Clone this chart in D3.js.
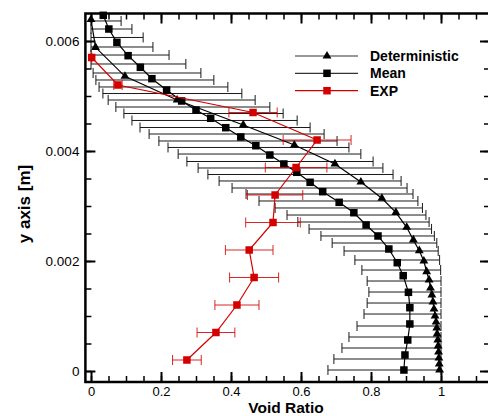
<!DOCTYPE html>
<html><head><meta charset="utf-8">
<script src="https://cdn.jsdelivr.net/npm/d3@7"></script>
<style>body{margin:0;background:#fff}svg{display:block}</style>
</head><body><svg id="c" width="488" height="416"></svg>
<script>
// ---- data ----
const meanY = [0.006467,0.006218,0.005976,0.005733,0.005522,0.005315,0.005109,0.004909,0.004745,0.004595,0.004424,0.004255,0.004096,0.003927,0.003764,0.003613,0.003431,0.00326,0.003067,0.002878,0.002655,0.002455,0.002218,0.001969,0.001733,0.001431,0.001151,0.000855,0.000564,0.000291,0.000018];
const meanX = [0.035,0.051,0.074,0.106,0.141,0.174,0.216,0.259,0.300,0.342,0.385,0.428,0.471,0.511,0.551,0.588,0.626,0.662,0.709,0.751,0.786,0.820,0.851,0.875,0.892,0.907,0.911,0.911,0.905,0.897,0.894];

const barY  = [0.006364,0.006218,0.006064,0.005891,0.005745,0.005582,0.005418,0.005291,0.005164,0.005045,0.004927,0.0048,0.004682,0.004555,0.004427,0.004309,0.004182,0.004064,0.003945,0.003809,0.003691,0.003573,0.003455,0.003327,0.003218,0.003091,0.002964,0.002836,0.002709,0.002582,0.002455,0.002327,0.002182,0.002018,0.001836,0.001636,0.001436,0.001236,0.001036,0.000818,0.000618,0.000418,0.000218,0.000018];
const barLo = [0,0,0,0,0,0,0.006,0.014,0.023,0.034,0.049,0.071,0.094,0.117,0.14,0.166,0.194,0.22,0.249,0.274,0.306,0.334,0.366,0.403,0.443,0.48,0.526,0.56,0.591,0.623,0.657,0.689,0.723,0.754,0.774,0.789,0.794,0.789,0.78,0.76,0.737,0.717,0.694,0.677];
const barHi = [0.086,0.117,0.149,0.177,0.223,0.271,0.314,0.351,0.391,0.431,0.469,0.511,0.549,0.589,0.626,0.666,0.703,0.737,0.771,0.806,0.834,0.863,0.886,0.903,0.92,0.934,0.947,0.957,0.966,0.973,0.981,0.988,0.992,0.996,0.999,1,1,1,1,1,1,1,1,1];

const detY = [0.00639,0.005885,0.005358,0.004927,0.004473,0.004109,0.003764,0.003436,0.00314,0.002885,0.002613,0.002382,0.002187,0.002,0.001805,0.001655,0.001509,0.001382,0.001255,0.001127,0.001,0.000891,0.000782,0.000673,0.000564,0.000455,0.000345,0.000236,0.000127,0.00002];
const detX = [0.0,0.013,0.097,0.246,0.435,0.581,0.697,0.771,0.831,0.871,0.902,0.921,0.938,0.951,0.959,0.966,0.970,0.974,0.977,0.98,0.983,0.986,0.988,0.989,0.991,0.992,0.993,0.994,0.995,0.996];

const expY   = [0.0002,0.0007,0.0012,0.0017,0.0022,0.0027,0.0032,0.0037,0.0042,0.0047,0.0052,0.0057];
const expX   = [0.274,0.357,0.417,0.466,0.452,0.520,0.526,0.586,0.646,0.463,0.077,0.002];
const expErr = [0.041,0.054,0.063,0.070,0.068,0.078,0.079,0.088,0.097,0.069,0.012,0.0003];

const xTickValues = [0,0.2,0.4,0.6,0.8,1];
const xTickLabels = ["0","0.2","0.4","0.6","0.8","1"];
const yTickValues = [0,0.002,0.004,0.006];
const yTickLabels = ["0","0.002","0.004","0.006"];
const legendLabels = ["Deterministic","Mean","EXP"];
const xTitle = "Void Ratio";
const yTitle = "y axis [m]";

// ---- drawing ----
const svg = d3.select("#c");
const FONT = "'Liberation Sans', Arial, Helvetica, sans-serif";
const RED = "#d40000";
const xDomain = [-0.016, 1.14], yDomain = [-0.0002, 0.0065];
const x = d3.scaleLinear().domain(xDomain).range([85.4, 490]);
const y = d3.scaleLinear().domain(yDomain).range([382, 13.5]);
const L = x(xDomain[0]), R = x(xDomain[1]), T = y(yDomain[1]), B = y(yDomain[0]);

const xMinor = d3.range(0, 1.1001, 0.05);
const yMinor = d3.range(0, 0.00640, 0.0005);

function styleAxis(g, w){ g.select(".domain").remove(); g.selectAll(".tick line").attr("stroke","#000").attr("stroke-width",w); }
// minor ticks
svg.append("g").attr("transform",`translate(0,${B})`).call(d3.axisBottom(x).tickValues(xMinor).tickSize(-6).tickFormat("")).call(g=>styleAxis(g,1.5));
svg.append("g").attr("transform",`translate(0,${T})`).call(d3.axisTop(x).tickValues(xMinor).tickSize(-6).tickFormat("")).call(g=>styleAxis(g,1.5));
svg.append("g").attr("transform",`translate(${L},0)`).call(d3.axisLeft(y).tickValues(yMinor).tickSize(-6).tickFormat("")).call(g=>styleAxis(g,1.5));
svg.append("g").attr("transform",`translate(${R},0)`).call(d3.axisRight(y).tickValues(yMinor).tickSize(-6).tickFormat("")).call(g=>styleAxis(g,1.5));
// major ticks
const gx = svg.append("g").attr("transform",`translate(0,${B})`)
  .call(d3.axisBottom(x).tickValues(xTickValues).tickSize(-10).tickPadding(5).tickFormat((d,i)=>xTickLabels[i]))
  .call(g=>styleAxis(g,2));
gx.selectAll("text").attr("font-family",FONT).attr("font-size",13).attr("fill","#000");
svg.append("g").attr("transform",`translate(0,${T})`).call(d3.axisTop(x).tickValues(xTickValues).tickSize(-10).tickFormat("")).call(g=>styleAxis(g,2));
const gy = svg.append("g").attr("transform",`translate(${L},0)`)
  .call(d3.axisLeft(y).tickValues(yTickValues).tickSize(-10).tickPadding(6).tickFormat((d,i)=>yTickLabels[i]))
  .call(g=>styleAxis(g,2));
gy.selectAll("text").attr("font-family",FONT).attr("font-size",13.5).attr("fill","#000");
svg.append("g").attr("transform",`translate(${R},0)`).call(d3.axisRight(y).tickValues(yTickValues).tickSize(-10).tickFormat("")).call(g=>styleAxis(g,2));

const plot = svg.append("g");
const CAP = 5;
// mean error bars
const bars = plot.append("g").attr("stroke","#1a1a1a").attr("stroke-width",1).attr("fill","none");
barY.forEach((v,i)=>{
  const yy = y(v), a = x(barLo[i]), b = x(barHi[i]);
  bars.append("line").attr("x1",a).attr("x2",b).attr("y1",yy).attr("y2",yy);
  bars.append("line").attr("x1",a).attr("x2",a).attr("y1",yy-CAP).attr("y2",yy+CAP);
  bars.append("line").attr("x1",b).attr("x2",b).attr("y1",yy-CAP).attr("y2",yy+CAP);
});
const line = d3.line().x(d=>x(d[0])).y(d=>y(d[1]));
const meanPts = meanX.map((v,i)=>[v,meanY[i]]);
const detPts = detX.map((v,i)=>[v,detY[i]]);
const expPts = expX.map((v,i)=>[v,expY[i]]);
plot.append("path").attr("d",line(meanPts)).attr("fill","none").attr("stroke","#000").attr("stroke-width",1.2);
plot.append("path").attr("d",line(detPts)).attr("fill","none").attr("stroke","#000").attr("stroke-width",1.2);
const SQ = 7.5;
plot.append("g").selectAll("rect").data(meanPts).join("rect")
  .attr("x",d=>x(d[0])-SQ/2).attr("y",d=>y(d[1])-SQ/2).attr("width",SQ).attr("height",SQ).attr("fill","#000");
const tri = d3.symbol().type(d3.symbolTriangle).size(34);
plot.append("g").selectAll("path").data(detPts).join("path")
  .attr("d",tri).attr("transform",d=>`translate(${x(d[0])},${y(d[1])})`).attr("fill","#000");
// EXP
const eb = plot.append("g").attr("stroke",RED).attr("stroke-width",1).attr("stroke-opacity",0.85);
expPts.forEach((d,i)=>{
  const yy=y(d[1]), a=x(d[0]-expErr[i]), b=x(d[0]+expErr[i]);
  eb.append("line").attr("x1",a).attr("x2",b).attr("y1",yy).attr("y2",yy);
  eb.append("line").attr("x1",a).attr("x2",a).attr("y1",yy-CAP).attr("y2",yy+CAP);
  eb.append("line").attr("x1",b).attr("x2",b).attr("y1",yy-CAP).attr("y2",yy+CAP);
});
plot.append("path").attr("d",line(expPts)).attr("fill","none").attr("stroke",RED).attr("stroke-width",1.2);
plot.append("g").selectAll("rect").data(expPts).join("rect")
  .attr("x",d=>x(d[0])-SQ/2).attr("y",d=>y(d[1])-SQ/2).attr("width",SQ).attr("height",SQ).attr("fill",RED);

// frame
svg.append("rect").attr("x",L).attr("y",T).attr("width",R-L).attr("height",B-T)
  .attr("fill","none").attr("stroke","#000").attr("stroke-width",2.5);

// legend
const leg = svg.append("g");
const legY = [56, 73.3, 90.7];
legendLabels.forEach((lab,i)=>{
  const col = i===2 ? RED : "#333";
  leg.append("line").attr("x1",295).attr("x2",358).attr("y1",legY[i]).attr("y2",legY[i]).attr("stroke",col).attr("stroke-width",1.2);
  if(i===0) leg.append("path").attr("d",tri).attr("transform",`translate(327,${legY[i]})`).attr("fill","#000");
  else leg.append("rect").attr("x",327-SQ/2).attr("y",legY[i]-SQ/2).attr("width",SQ).attr("height",SQ).attr("fill",i===2?RED:"#000");
  leg.append("text").attr("x",370).attr("y",legY[i]+5).text(lab)
    .attr("font-family",FONT).attr("font-weight","bold").attr("font-size",14).attr("fill","#000");
});

// titles
svg.append("text").attr("x",286).attr("y",412.5).attr("text-anchor","middle").text(xTitle)
  .attr("font-family",FONT).attr("font-weight","bold").attr("font-size",15.5).attr("fill","#000");
svg.append("text").attr("transform","translate(30,204) rotate(-90)").attr("text-anchor","middle").text(yTitle)
  .attr("font-family",FONT).attr("font-weight","bold").attr("font-size",17).attr("fill","#000");
</script></body></html>
